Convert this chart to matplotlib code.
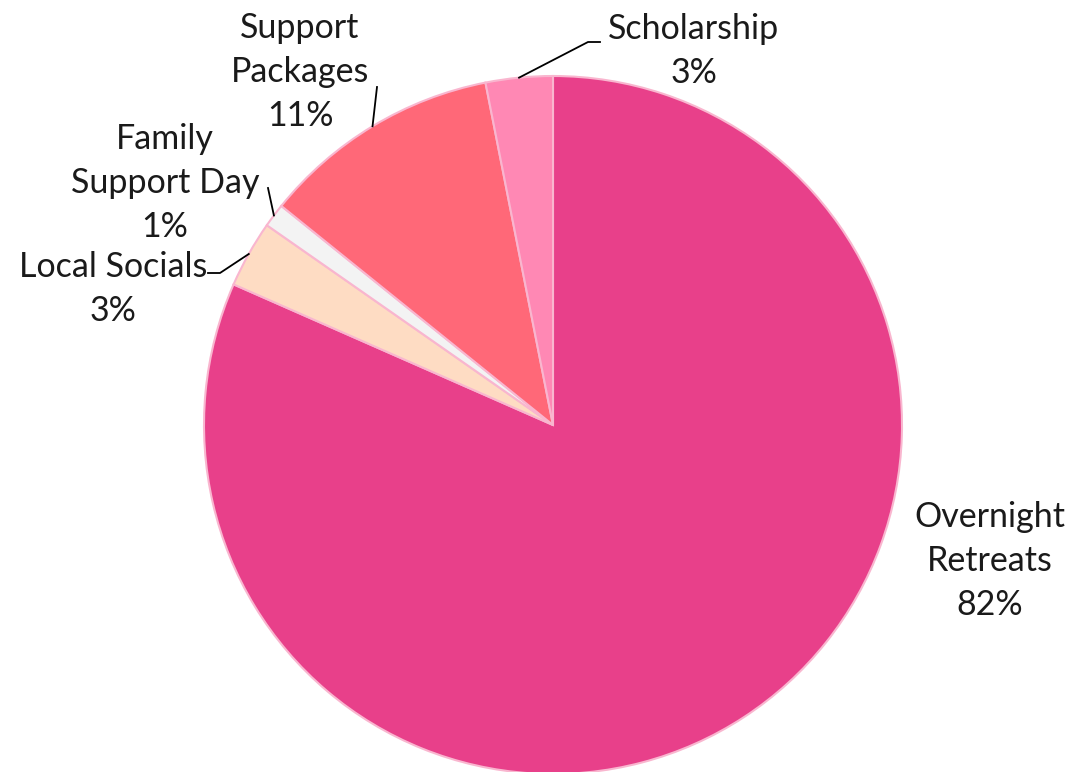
import numpy as np
import matplotlib.pyplot as plt

# данные (по часовой стрелке от 12 часов)
labels = ['Overnight\nRetreats', 'Local Socials', 'Family\nSupport Day', 'Support\nPackages', 'Scholarship']
values = [81.6, 3.1, 1.1, 11.1, 3.1]
colors = ['#E8408A', '#FEDCC3', '#F3F3F3', '#FF6878', '#FF88B4']

W, H = 1076, 772
cx, cy, R = 553, H - 425, 349

# положение подписей (в пикселях картинки) и изломы выносок
label_pos = [(990, 561), (113, 289), (165, 183), (300, 72), (694, 51)]
elbow = [None, (220, 273), (268, 188), (377, 87), (600, 42)]

plt.rcParams['font.family'] = ['Lato', 'DejaVu Sans']

fig = plt.figure(figsize=(W / 100, H / 100), dpi=100)
ax = fig.add_axes([0, 0, 1, 1])
ax.set_xlim(0, W)
ax.set_ylim(0, H)
ax.set_aspect('equal')
ax.axis('off')

wedges, _ = ax.pie(values, colors=colors, startangle=90, counterclock=False,
                   center=(cx, cy), radius=R,
                   wedgeprops=dict(edgecolor='#F9B6CF', linewidth=1.5))
ax.set_xlim(0, W)
ax.set_ylim(0, H)

total = sum(values)
for i, w in enumerate(wedges):
    pct = round(values[i] / total * 100)
    tx, ty = label_pos[i]
    ax.text(tx, H - ty, f'{labels[i]}\n{pct}%', ha='center', va='center',
            fontsize=24.5, color='#1a1a1a', linespacing=1.45)
    if elbow[i] is None:
        continue
    mid = np.deg2rad((w.theta1 + w.theta2) / 2)
    sx, sy = cx + R * np.cos(mid), cy + R * np.sin(mid)
    ex, ey = elbow[i]
    ey = H - ey
    pts_x = [sx, ex]
    pts_y = [sy, ey]
    if i == 1:
        pts_x.append(ex - 12)
        pts_y.append(ey)
    if i == 4:
        pts_x.insert(1, ex - 12)
        pts_y.insert(1, ey)
    ax.plot(pts_x, pts_y, color='black', linewidth=1.3)

plt.savefig('out.png', dpi=100)
